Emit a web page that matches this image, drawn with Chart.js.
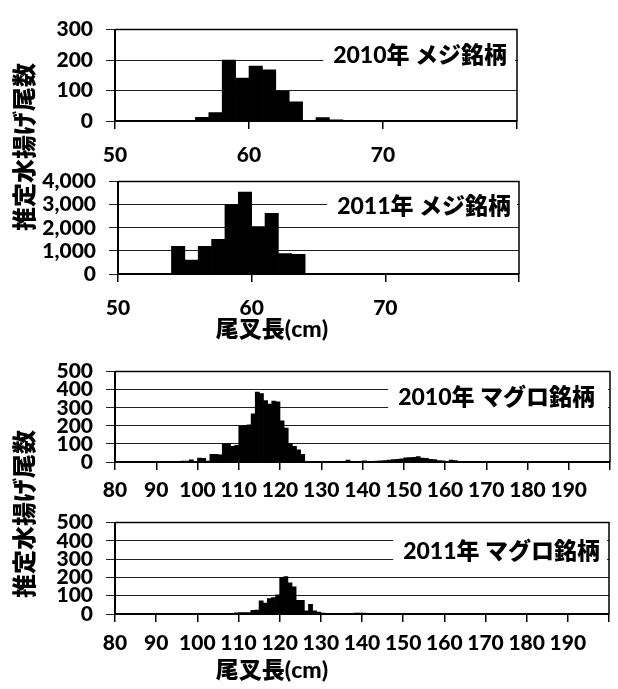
<!DOCTYPE html>
<html lang="ja">
<head>
<meta charset="utf-8">
<script src="https://cdn.jsdelivr.net/npm/chart.js@4.4.0/dist/chart.umd.min.js"></script>
<style>
  html, body { margin: 0; padding: 0; background: #fff; }
  #wrap { position: relative; width: 618px; height: 689px; overflow: hidden; background: #fff; }
  #wrap canvas { position: absolute; left: 0; }
  .ytitle, .xtitle { position: absolute; font-family: Lato, 'Noto Sans CJK JP', sans-serif; font-weight: 900; color: #000; white-space: nowrap; line-height: 1; }
  .ytitle { font-size: 24px; transform: translate(-50%, -50%) rotate(-90deg); }
  .xtitle { font-size: 23px; transform: translate(-50%, -50%); }
</style>
</head>
<body>
<div id="wrap">
  <canvas id="c1"></canvas>
  <canvas id="c2"></canvas>
  <canvas id="c3"></canvas>
  <canvas id="c4"></canvas>
  <div class="ytitle" id="yt1" style="left:24px; top:147px;"></div>
  <div class="ytitle" id="yt2" style="left:24px; top:514px;"></div>
  <div class="xtitle" id="xt1" style="left:272px; top:328px;"></div>
  <div class="xtitle" id="xt2" style="left:272px; top:669px;"></div>
</div>
<script>
// --- data: fork length bins (cm) and estimated landed counts ---
const mejiLengths = [50, 51, 52, 53, 54, 55, 56, 57, 58, 59, 60, 61, 62, 63, 64, 65, 66, 67, 68, 69,
    70, 71, 72, 73, 74, 75, 76, 77, 78, 79];
const meji2010 = [2, 2, 2, 0, 0, 0, 12, 28, 200, 141, 180, 168, 98, 63, 2, 11, 4, 1, 0, 0,
    0, 0, 0, 0, 0, 0, 0, 0, 0, 0];
const meji2011 = [0, 0, 10, 10, 1200, 600, 1200, 1500, 3000, 3550, 2050, 2630, 880, 850, 20, 10, 0, 0, 0, 0,
    0, 0, 0, 0, 0, 0, 0, 0, 0, 0];

const maguroLengths = [
    80, 81, 82, 83, 84, 85, 86, 87, 88, 89, 90, 91, 92, 93, 94, 95, 96, 97, 98, 99,
    100, 101, 102, 103, 104, 105, 106, 107, 108, 109, 110, 111, 112, 113, 114, 115, 116, 117, 118, 119,
    120, 121, 122, 123, 124, 125, 126, 127, 128, 129, 130, 131, 132, 133, 134, 135, 136, 137, 138, 139,
    140, 141, 142, 143, 144, 145, 146, 147, 148, 149, 150, 151, 152, 153, 154, 155, 156, 157, 158, 159,
    160, 161, 162, 163, 164, 165, 166, 167, 168, 169, 170, 171, 172, 173, 174, 175, 176, 177, 178, 179,
    180, 181, 182, 183, 184, 185, 186, 187, 188, 189, 190, 191, 192, 193, 194, 195, 196, 197, 198, 199];
const maguro2010 = [
    0, 0, 0, 0, 0, 1, 1, 1, 1, 1, 2, 2, 2, 3, 3, 3, 5, 5, 12, 3,
    22, 20, 5, 43, 43, 40, 100, 100, 87, 92, 198, 203, 205, 267, 387, 378, 340, 320, 337, 333,
    228, 188, 103, 87, 68, 42, 3, 1, 1, 1, 1, 1, 1, 2, 2, 3, 10, 3, 2, 2,
    6, 3, 3, 5, 6, 8, 10, 13, 15, 18, 23, 25, 26, 30, 22, 20, 15, 14, 8, 6,
    3, 10, 8, 3, 2, 2, 1, 1, 1, 1, 1, 1, 1, 1, 1, 2, 2, 2, 2, 2,
    2, 1, 1, 1, 1, 1, 1, 1, 1, 1, 2, 2, 2, 2, 2, 2, 2, 1, 1, 1];
const maguro2011 = [
    0, 0, 0, 0, 0, 0, 0, 0, 0, 0, 0, 0, 0, 0, 0, 0, 0, 0, 1, 1,
    1, 1, 1, 1, 1, 1, 2, 3, 3, 6, 8, 8, 8, 20, 22, 72, 60, 85, 90, 105,
    200, 205, 170, 148, 75, 75, 17, 53, 17, 10, 5, 3, 3, 3, 3, 3, 3, 3, 5, 5,
    5, 3, 3, 3, 3, 3, 3, 3, 3, 3, 3, 3, 3, 2, 2, 2, 2, 2, 2, 2,
    2, 2, 2, 2, 2, 2, 2, 2, 2, 2, 1, 1, 1, 0, 0, 0, 0, 0, 0, 0,
    0, 0, 0, 0, 0, 0, 0, 0, 0, 0, 0, 0, 0, 0, 0, 0, 0, 0, 0, 0];

const mejiTicks = [50, 60, 70, 80];
const maguroTicks = [80, 90, 100, 110, 120, 130, 140, 150, 160, 170, 180, 190, 200];
const meji2010YTicks = [0, 100, 200, 300];
const meji2011YTicks = [0, 1000, 2000, 3000, 4000];
const maguroYTicks = [0, 100, 200, 300, 400, 500];

const panelTitles = ['2010年 メジ銘柄', '2011年 メジ銘柄', '2010年 マグロ銘柄', '2011年 マグロ銘柄'];
const yTitle = '推定水揚げ尾数';
const xTitle = '尾叉長(cm)';

const FONT = "Lato, 'Noto Sans CJK JP', sans-serif";

// canvas placement + plot box for each panel
const panels = [
    { id: 'c1', lengths: mejiLengths, values: meji2010, xt: mejiTicks, yt: meji2010YTicks, title: panelTitles[0],
      top: 4, height: 170, plotTop: 20, plotBottom: 121, plotLeft: 115, plotRight: 517, labelPad: 14, tRight: 10, tDy: 26 },
    { id: 'c2', lengths: mejiLengths, values: meji2011, xt: mejiTicks, yt: meji2011YTicks, title: panelTitles[1],
      top: 156, height: 160, plotTop: 172, plotBottom: 274, plotLeft: 118, plotRight: 519, labelPad: 14, tRight: 8, tDy: 25 },
    { id: 'c3', lengths: maguroLengths, values: maguro2010, xt: maguroTicks, yt: maguroYTicks, title: panelTitles[2],
      top: 346, height: 160, plotTop: 362, plotBottom: 462, plotLeft: 115, plotRight: 617, labelPad: 8, tRight: 15, tDy: 26 },
    { id: 'c4', lengths: maguroLengths, values: maguro2011, xt: maguroTicks, yt: maguroYTicks, title: panelTitles[3],
      top: 497, height: 160, plotTop: 513, plotBottom: 614, plotLeft: 115, plotRight: 617, labelPad: 9, tRight: 9, tDy: 29 }
];

// white label box + frame on top/right of the plot
const panelDecor = {
    id: 'panelDecor',
    afterDatasetsDraw(chart, args, opts) {
        const { ctx, chartArea: a } = chart;
        ctx.save();
        ctx.font = '900 23px ' + FONT;
        const w = ctx.measureText(opts.text).width;
        const xr = a.right - opts.right;
        const yc = a.top + opts.dy;
        ctx.fillStyle = '#fff';
        ctx.fillRect(xr - w - 10, yc - 16, w + 10 + opts.right - 2, 32);
        ctx.fillStyle = '#000';
        ctx.textAlign = 'right';
        ctx.textBaseline = 'middle';
        ctx.fillText(opts.text, xr, yc);
        ctx.strokeStyle = '#000';
        ctx.lineWidth = 1.5;
        ctx.beginPath();
        ctx.moveTo(a.left, a.top);
        ctx.lineTo(a.right, a.top);
        ctx.lineTo(a.right, a.bottom);
        ctx.stroke();
        ctx.restore();
    }
};

function makePanel(p) {
    const cv = document.getElementById(p.id);
    cv.width = 618;
    cv.height = p.height;
    cv.style.top = p.top + 'px';
    const xMin = p.xt[0], xMax = p.xt[p.xt.length - 1];
    const yMax = p.yt[p.yt.length - 1];
    const tickFont = { size: 21, weight: '900', family: FONT };

    new Chart(cv, {
        type: 'bar',
        data: {
            datasets: [{
                data: p.lengths.map((len, i) => ({ x: len + 0.5, y: p.values[i] })),
                backgroundColor: '#000',
                borderWidth: 0,
                barPercentage: 1,
                categoryPercentage: 1
            }]
        },
        options: {
            responsive: false,
            animation: false,
            events: [],
            layout: { padding: { left: 0, top: p.plotTop - p.top, right: 618 - p.plotRight, bottom: 0 } },
            plugins: {
                legend: { display: false },
                tooltip: { enabled: false },
                panelDecor: { text: p.title, right: p.tRight, dy: p.tDy }
            },
            scales: {
                x: {
                    type: 'linear', min: xMin, max: xMax, offset: false,
                    afterBuildTicks: s => { s.ticks = p.xt.map(v => ({ value: v })); },
                    afterFit: s => { s.height = p.top + p.height - p.plotBottom; },
                    ticks: {
                        color: '#000', font: tickFont, padding: p.labelPad,
                        maxRotation: 0, autoSkip: false,
                        callback: v => (v === xMax ? '' : v)
                    },
                    grid: { drawOnChartArea: false, drawTicks: true, tickLength: 8, color: '#000', lineWidth: 1.5, offset: false },
                    border: { color: '#000', width: 2 }
                },
                y: {
                    min: 0, max: yMax,
                    afterBuildTicks: s => { s.ticks = p.yt.map(v => ({ value: v })); },
                    afterFit: s => { s.width = p.plotLeft; },
                    ticks: {
                        color: '#000', font: tickFont, padding: 13, autoSkip: false,
                        callback: v => v.toLocaleString('en-US')
                    },
                    grid: { color: '#222', lineWidth: 1, tickLength: 9 },
                    border: { color: '#000', width: 2 }
                }
            }
        },
        plugins: [panelDecor]
    });
}

panels.forEach(makePanel);

document.getElementById('yt1').textContent = yTitle;
document.getElementById('yt2').textContent = yTitle;
document.getElementById('xt1').textContent = xTitle;
document.getElementById('xt2').textContent = xTitle;
</script>
</body>
</html>
